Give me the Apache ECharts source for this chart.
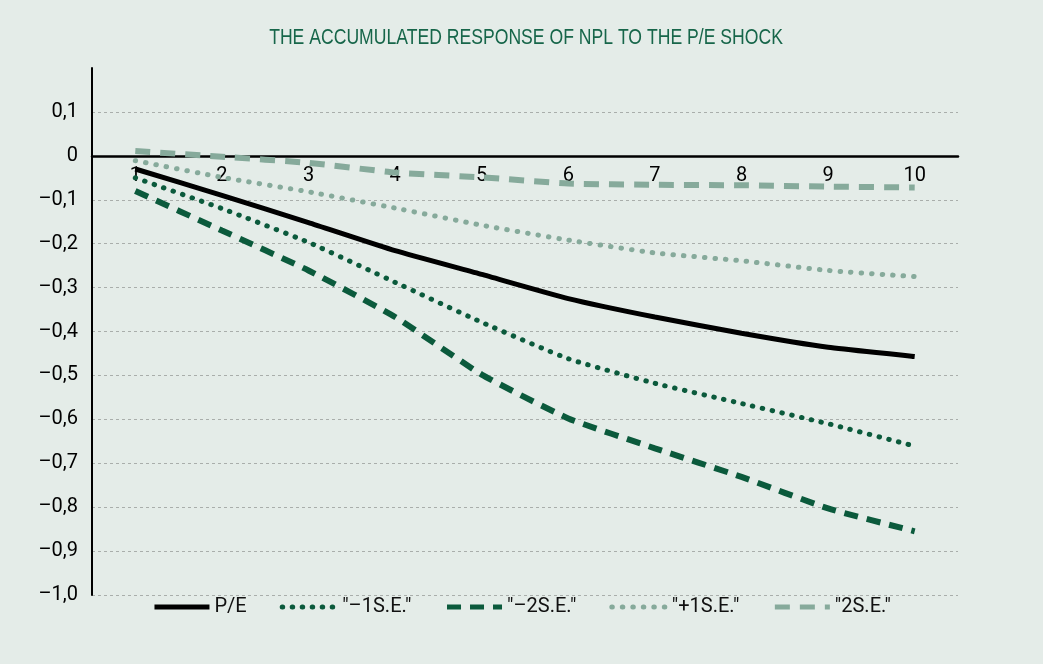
<!DOCTYPE html>
<html>
<head>
<meta charset="utf-8">
<script src="https://cdn.jsdelivr.net/npm/echarts@6/dist/echarts.min.js"></script>
<style>
  html, body { margin: 0; padding: 0; background: #e4ece8; }
  #chart { width: 1043px; height: 664px; }
</style>
</head>
<body>
<div id="chart"></div>
<script>
// periods after the shock
const periods = ["1", "2", "3", "4", "5", "6", "7", "8", "9", "10"];

// accumulated response values
const pe = [-0.03, -0.09, -0.152, -0.216, -0.27, -0.325, -0.367, -0.404, -0.436, -0.457];
const minus1se = [-0.05, -0.12, -0.197, -0.288, -0.379, -0.462, -0.518, -0.564, -0.61, -0.661];
const minus2se = [-0.08, -0.17, -0.261, -0.367, -0.498, -0.598, -0.666, -0.731, -0.803, -0.855];
const plus1se = [-0.011, -0.049, -0.082, -0.119, -0.158, -0.192, -0.221, -0.239, -0.261, -0.275];
const plus2se = [0.011, -0.002, -0.016, -0.038, -0.049, -0.063, -0.066, -0.067, -0.07, -0.072];

const seriesNames = ["P/E", '"\u20131S.E."', '"\u20132S.E."', '"+1S.E."', '"2S.E."'];

const FONT = "Roboto, 'Liberation Sans', sans-serif";
const DARK = "#0b5a3c";
const LIGHT = "#86aa9b";

const chart = echarts.init(document.getElementById("chart"));

// helper for the line look of each series
function mkLine(name, data, color, width, dash, cap) {
  return {
    name: name,
    type: "line",
    data: data,
    symbol: "none",
    smooth: 0.15,
    itemStyle: { color: color },
    lineStyle: { color: color, width: width, type: dash, cap: cap || "butt" },
  };
}

const option = {
  backgroundColor: "#e4ece8",
  animation: false,
  // title drawn as graphic text so it can be squeezed like a condensed face
  graphic: [
    {
      type: "text",
      x: 526,
      y: 38,
      scaleX: 0.8,
      style: {
        text: "THE ACCUMULATED RESPONSE OF NPL TO THE P/E SHOCK",
        fill: "#17664a",
        font: "22px 'Liberation Sans', Arial, sans-serif",
        align: "center",
        verticalAlign: "middle",
      },
    },
  ],
  legend: {
    bottom: 42,
    left: "center",
    itemWidth: 55,
    itemHeight: 14,
    itemGap: 33,
    itemStyle: { opacity: 0 },
    lineStyle: { width: 5 },
    textStyle: { color: "#111", fontSize: 20, fontFamily: FONT },
    data: seriesNames,
  },
  grid: { left: 92, right: 85, top: 68, bottom: 69 },
  xAxis: {
    type: "category",
    data: periods,
    boundaryGap: true,
    offset: -439,
    z: 3,
    axisLine: { onZero: false, lineStyle: { color: "#000", width: 2.5 } },
    axisTick: { show: false },
    axisLabel: { color: "#000", fontSize: 20, fontFamily: FONT, margin: 10 },
    splitLine: { show: false },
  },
  yAxis: {
    type: "value",
    min: -1,
    max: 0.2,
    interval: 0.1,
    axisLine: { show: true, lineStyle: { color: "#000", width: 2 } },
    axisTick: { show: false },
    axisLabel: {
      color: "#000",
      fontSize: 20,
      fontFamily: FONT,
      margin: 14,
      formatter: (v) => {
        const r = Math.round(v * 10) / 10;
        if (r > 0.15) return "";
        if (r === 0) return "0";
        return r.toFixed(1).replace(".", ",").replace("-", "\u2013");
      },
    },
    splitLine: {
      show: true,
      showMaxLine: false,
      lineStyle: { color: "#a9aeab", width: 1, type: [3, 3] },
    },
  },
  series: [
    mkLine(seriesNames[4], plus2se, LIGHT, 6, [15, 10]),
    mkLine(seriesNames[3], plus1se, LIGHT, 5, [0.5, 10], "round"),
    mkLine(seriesNames[2], minus2se, DARK, 6, [14, 9]),
    mkLine(seriesNames[1], minus1se, DARK, 5, [0.5, 9.5], "round"),
    mkLine(seriesNames[0], pe, "#000", 5, "solid"),
  ],
};

chart.setOption(option);
</script>
</body>
</html>
